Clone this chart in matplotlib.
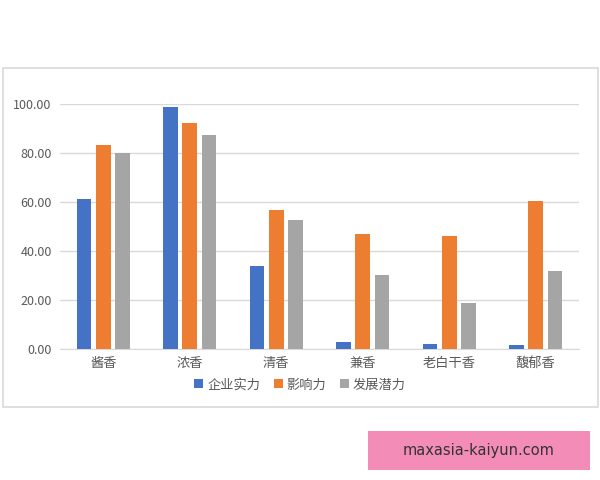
import numpy as np
import matplotlib
matplotlib.use('Agg')
import matplotlib.pyplot as plt
from matplotlib.patches import Rectangle

plt.rcParams['font.family'] = ['Noto Sans CJK SC', 'DejaVu Sans']

categories = ['酱香', '浓香', '清香', '兼香', '老白干香', '馥郁香']
series_names = ['企业实力', '影响力', '发展潜力']
qiye = [61.2, 98.8, 33.9, 2.9, 2.0, 1.5]
yingxiang = [83.5, 92.1, 56.9, 46.9, 46.2, 60.4]
fazhan = [80.0, 87.2, 52.8, 30.3, 18.9, 31.7]
colors = ['#4472C4', '#ED7D31', '#A5A5A5']

fig = plt.figure(figsize=(6, 4.8), dpi=100)
ax = fig.add_axes([0.1, 0.273, 0.865, 0.51])

x = np.arange(len(categories))
w = 0.172
step = 0.222
for i, (vals, name) in enumerate(zip([qiye, yingxiang, fazhan], series_names)):
    ax.bar(x + (i - 1) * step, vals, width=w, color=colors[i], label=name, zorder=3)

ax.set_xlim(-0.5, len(categories) - 0.5)
ax.set_ylim(0, 100)
ax.set_yticks(np.arange(0, 101, 20))
ax.set_yticklabels(['%.2f' % v for v in np.arange(0, 101, 20)], color='#595959', fontsize=9)
ax.set_xticks(x)
ax.set_xticklabels(categories, color='#595959', fontsize=9.5)
ax.tick_params(length=0, pad=6)
ax.yaxis.grid(True, color='#d9d9d9', linewidth=1, zorder=0)
ax.set_axisbelow(True)
for s in ['top', 'right', 'left']:
    ax.spines[s].set_visible(False)
ax.spines['bottom'].set_color('#d9d9d9')

fig.legend(loc='center', bbox_to_anchor=(0.5, 0.198), ncol=3, frameon=False,
           fontsize=9.5, handlelength=0.7, handleheight=0.7, handletextpad=0.3,
           columnspacing=1.0, labelcolor='#595959')

# outer chart border
fig.patches.append(Rectangle((3 / 600, 1 - 407 / 480), 595 / 600, 339 / 480,
                             transform=fig.transFigure, fill=False,
                             edgecolor='#d9d9d9', linewidth=1.2))

# watermark
fig.patches.append(Rectangle((368 / 600, 1 - 470 / 480), 222 / 600, 39 / 480,
                             transform=fig.transFigure, facecolor='#F48CB8',
                             edgecolor='none'))
fig.text(479 / 600, 1 - 450 / 480, 'maxasia-kaiyun.com', ha='center', va='center',
         fontsize=10.5, color='#333333', family=['DejaVu Sans'])

fig.savefig('out.png', dpi=100)
